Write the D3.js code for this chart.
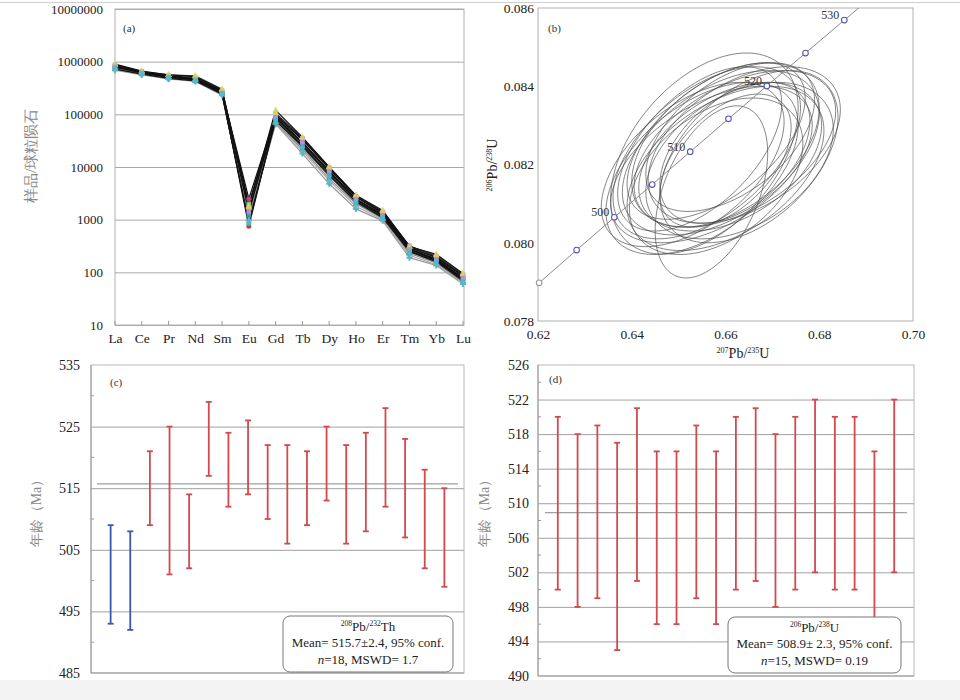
<!DOCTYPE html>
<html><head><meta charset="utf-8">
<script src="https://cdn.jsdelivr.net/npm/d3@7"></script>
<style>
body{margin:0;background:#fff}
svg{display:block}
text{font-family:"Liberation Serif","Times New Roman",serif}
</style>
</head><body>
<svg id="chart" width="960" height="700"></svg>
<script>
// ---------- Panel (a) data: REE chondrite-normalised patterns ----------
const elements = ["La","Ce","Pr","Nd","Sm","Eu","Gd","Tb","Dy","Ho","Er","Tm","Yb","Lu"];
const reeSamples = [
  [850000,640000,530000,470000,270000,2500, 95000,33000, 9500,2700,1350,300,190,85],
  [900000,660000,560000,520000,290000,1800,120000,37000,10000,2900,1500,310,220,95],
  [780000,600000,500000,450000,260000,1500,100000,35000, 9800,2800,1400,320,200,90],
  [720000,580000,480000,430000,240000, 900, 75000,25000, 7000,2200,1100,250,160,70],
  [800000,620000,510000,460000,250000, 750, 85000,28000, 8000,2400,1200,270,170,75],
  [760000,590000,490000,440000,250000,1100, 80000,26000, 7500,2300,1150,260,165,72],
  [690000,560000,470000,420000,230000,1000, 65000,18000, 4800,1600, 950,190,135,60],
  [820000,630000,520000,480000,275000,2000, 90000,30000, 8500,2500,1250,280,180,80],
  [870000,650000,540000,500000,280000,1300, 98000,34000, 9200,2750,1300,290,195,88],
  [740000,600000,500000,440000,245000,1200, 70000,22000, 6000,2000,1050,230,150,65],
  [700000,570000,480000,430000,235000, 950, 68000,20000, 5500,1800,1000,210,140,62],
  [880000,650000,560000,540000,300000,1700,105000,36000, 9800,2850,1450,305,210,92],
  [800000,610000,510000,450000,255000,1400, 88000,29000, 8200,2450,1200,275,175,78],
  [760000,600000,500000,445000,248000, 850, 78000,24000, 6800,2150,1080,245,158,68]
];
const reeMarkerColors = ["#c0508a","#d8d870","#a890d0","#40b8c8","#a02828","#304a90","#38b0c0","#a8d8a0","#9a80c8","#30a0a0","#7ab0c0","#e0d860","#b090d8","#48c0d0"];
const reeLineColors = ["#111","#111","#222","#111","#111","#222","#999","#111","#222","#888","#aaa","#333","#111","#555"];
const reeSymbols = ["circle","triangle","square","square","circle","diamond","cross","square","square","triangle","cross","triangle","square","circle"];
const aTicks = [10,100,1000,10000,100000,1000000,10000000];

// ---------- Panel (b) data: concordia ----------
const concAges = [490,495,500,505,510,515,520,525,530,535];
const concX = [0.620243,0.628241,0.636279,0.644357,0.652474,0.660631,0.668829,0.677066,0.685345,0.693664];
const concY = [0.078975,0.079812,0.080650,0.081488,0.082327,0.083167,0.084008,0.084849,0.085691,0.086533];
const concMarkerAges = [490,495,500,505,510,515,520,525,530];
const concLabelAges = [500,510,520,530];
const ellCx  = [0.6555,0.6570,0.6590,0.6570,0.6600,0.6550,0.6610,0.6580,0.6620,0.6560,0.6600,0.6640,0.6530,0.6610,0.6580,0.6630,0.6545,0.6650,0.6600,0.6620];
const ellCy  = [0.08228,0.0813,0.0823,0.0820,0.0825,0.0819,0.0822,0.0826,0.0824,0.0823,0.0819,0.0825,0.0820,0.0827,0.0817,0.0821,0.0824,0.0822,0.0821,0.0823];
const ellDx  = [0.0200,0.0120,0.0210,0.0215,0.0200,0.0205,0.0195,0.0190,0.0215,0.0200,0.0210,0.0205,0.0195,0.0180,0.0185,0.0200,0.0175,0.0190,0.0140,0.0160];
const ellDy  = [0.00257,0.0022,0.0021,0.0020,0.0021,0.0022,0.0019,0.0020,0.0020,0.0022,0.0021,0.0020,0.0021,0.0019,0.0020,0.0020,0.0021,0.0022,0.0017,0.0018];
const ellRho = [0.45,0.45,0.48,0.50,0.45,0.50,0.42,0.55,0.48,0.52,0.46,0.45,0.52,0.50,0.42,0.40,0.55,0.46,0.50,0.45];
const bXTicks = [0.62,0.64,0.66,0.68,0.70];
const bYTicks = [0.078,0.080,0.082,0.084,0.086];

// ---------- Panel (c) data: 208Pb/232Th ages ----------
const cTop = [509,508,521,525,514,529,524,526,522,522,521,525,522,524,528,523,518,515];
const cBot = [493,492,509,501,502,517,512,514,510,506,509,513,506,508,512,507,502,499];
const cGroup = ["b","b","r","r","r","r","r","r","r","r","r","r","r","r","r","r","r","r"];
const cMean = 515.7;
const cTicks = [485,495,505,515,525,535];
const cMinor = [490,500,510,520,530];

// ---------- Panel (d) data: 206Pb/238U ages ----------
const dTop = [520,518,519,517,521,516,516,519,516,520,521,518,520,522,520,520,516,522];
const dBot = [500,498,499,493,501,496,496,499,496,500,501,498,500,502,500,500,496,502];
const dMean = 508.9;
const dTicks = [490,494,498,502,506,510,514,518,522,526];
const dMinor = [492,496,500,504,508,512,516,520,524];

// ================= drawing =================
const svg = d3.select("#chart");
svg.append("rect").attr("width",960).attr("height",700).attr("fill","#fff");
svg.append("line").attr("x1",0).attr("x2",960).attr("y1",2.5).attr("y2",2.5).attr("stroke","#cfcfcf");
svg.append("rect").attr("x",0).attr("y",680).attr("width",960).attr("height",20).attr("fill","#f3f3f3");

const SERIF = '"Liberation Serif","Times New Roman",serif';
const CJK = '"Noto Sans CJK SC","Noto Sans CJK JP",sans-serif';

function styleAxisText(g, size){
  g.selectAll("text").attr("font-family",SERIF).attr("font-size",size).attr("fill","#222");
  g.select(".domain").remove();
}

// ---------------- Panel (a) ----------------
{
  const L=115,R=464,T=9,B=325;
  const x = d3.scalePoint().domain(elements).range([L,463]);
  const y = d3.scaleLog().domain([10,1e7]).range([B,T]);
  const g = svg.append("g");
  g.append("g").attr("transform",`translate(${L},0)`)
    .call(d3.axisLeft(y).tickValues(aTicks).tickSize(-(R-L)).tickFormat(""))
    .call(s=>{s.select(".domain").remove(); s.selectAll("line").attr("stroke","#a8a8a8").attr("stroke-width",1);});
  g.append("rect").attr("x",L).attr("y",T).attr("width",R-L).attr("height",B-T)
    .attr("fill","none").attr("stroke","#b0b0b0");
  g.append("g").attr("transform",`translate(${L},0)`)
    .call(d3.axisLeft(y).tickValues(aTicks).tickSize(0).tickPadding(12).tickFormat(d3.format("d")))
    .call(s=>styleAxisText(s,13));
  g.append("g").attr("transform",`translate(0,${B})`)
    .call(d3.axisBottom(x).tickSize(0).tickPadding(8))
    .call(s=>styleAxisText(s,13.5));
  g.append("g").selectAll("line").data(elements).join("line")
    .attr("x1",d=>x(d)).attr("x2",d=>x(d)).attr("y1",B).attr("y2",B-4).attr("stroke","#999");
  const line = d3.line().x((d,i)=>x(elements[i])).y(d=>y(d));
  const order = d3.range(reeSamples.length).sort((a,b)=>(reeLineColors[b]==="#111"?0:1)-(reeLineColors[a]==="#111"?0:1));
  g.append("g").selectAll("path").data(order).join("path")
    .attr("d",i=>line(reeSamples[i])).attr("fill","none")
    .attr("stroke",i=>reeLineColors[i]).attr("stroke-width",1.2);
  const symMap = {circle:d3.symbolCircle,triangle:d3.symbolTriangle,square:d3.symbolSquare,diamond:d3.symbolDiamond,cross:d3.symbolCross};
  reeSamples.forEach((s,i)=>{
    g.append("g").selectAll("path").data(s).join("path")
      .attr("transform",(d,j)=>`translate(${x(elements[j])},${y(d)})`)
      .attr("d",d3.symbol().type(symMap[reeSymbols[i]]).size(20))
      .attr("fill",reeMarkerColors[i]).attr("opacity",0.85);
  });
  g.append("text").attr("x",123).attr("y",32).attr("font-size",11).attr("fill","#333").text("(a)");
  g.append("text").attr("transform","translate(36,156) rotate(-90)").attr("text-anchor","middle")
    .attr("font-family",CJK).attr("font-size",15).attr("fill","#888").text("样品/球粒陨石");
}

// ---------------- Panel (b) ----------------
{
  const L=538,R=913,T=8,B=321;
  const x = d3.scaleLinear().domain([0.62,0.70]).range([L,R]);
  const y = d3.scaleLinear().domain([0.078,0.086]).range([B,T]);
  const g = svg.append("g");
  svg.append("clipPath").attr("id","clipb").append("rect").attr("x",L).attr("y",T).attr("width",R-L).attr("height",B-T);
  g.append("rect").attr("x",L).attr("y",T).attr("width",R-L).attr("height",B-T)
    .attr("fill","none").attr("stroke","#b0b0b0");
  g.append("g").attr("transform",`translate(${L},0)`)
    .call(d3.axisLeft(y).tickValues(bYTicks).tickSize(0).tickPadding(4).tickFormat(d3.format(".3f")))
    .call(s=>styleAxisText(s,13.5));
  g.append("g").attr("transform",`translate(0,${B})`)
    .call(d3.axisBottom(x).tickValues(bXTicks).tickSize(0).tickPadding(8).tickFormat(d3.format(".2f")))
    .call(s=>styleAxisText(s,13.5));
  const inner = g.append("g").attr("clip-path","url(#clipb)");
  const ang = d3.range(0,120).map(k=>k/120*2*Math.PI);
  const eLine = d3.line().x(p=>x(p[0])).y(p=>y(p[1])).curve(d3.curveLinearClosed);
  ellCx.forEach((cx,i)=>{
    const r = ellRho[i], q = Math.sqrt(1-r*r);
    const pts = ang.map(t=>[cx+ellDx[i]*Math.cos(t), ellCy[i]+ellDy[i]*(r*Math.cos(t)+q*Math.sin(t))]);
    inner.append("path").attr("d",eLine(pts)).attr("fill","none").attr("stroke","#4a4a4a").attr("stroke-width",0.8).attr("opacity",0.85);
  });
  const cl = d3.line().x((d,i)=>x(concX[i])).y((d,i)=>y(concY[i]));
  inner.append("path").attr("d",cl(concAges)).attr("fill","none").attr("stroke","#8a8a8a").attr("stroke-width",1);
  const idx = a=>concAges.indexOf(a);
  g.selectAll("circle.cm").data(concMarkerAges).join("circle")
    .attr("cx",a=>x(concX[idx(a)])).attr("cy",a=>y(concY[idx(a)])).attr("r",2.8)
    .attr("fill","#fff").attr("stroke",a=>a===490?"#999":"#5656b0").attr("stroke-width",1.1);
  g.selectAll("text.cl").data(concLabelAges).join("text")
    .attr("x",a=>x(concX[idx(a)])-5).attr("y",a=>y(concY[idx(a)])-1)
    .attr("text-anchor","end").attr("font-size",12).attr("fill","#333").text(a=>a);
  g.append("text").attr("x",548).attr("y",32).attr("font-size",11).attr("fill","#333").text("(b)");
  const xt = g.append("text").attr("x",743).attr("y",358).attr("text-anchor","middle").attr("font-size",14).attr("fill","#222");
  xt.append("tspan").attr("font-size",8).attr("dy",-5).text("207");
  xt.append("tspan").attr("dy",5).text("Pb/");
  xt.append("tspan").attr("font-size",8).attr("dy",-5).text("235");
  xt.append("tspan").attr("dy",5).text("U");
  const yt = g.append("text").attr("transform","translate(497,165) rotate(-90)").attr("text-anchor","middle").attr("font-size",14).attr("fill","#222");
  yt.append("tspan").attr("font-size",8).attr("dy",-5).text("206");
  yt.append("tspan").attr("dy",5).text("Pb/");
  yt.append("tspan").attr("font-size",8).attr("dy",-5).text("238");
  yt.append("tspan").attr("dy",5).text("U");
}

// ---------------- error-bar panels ----------------
function errPanel(opt){
  const {L,R,T,B,domain,ticks,minor,tops,bots,colors,mean,meanX,label,labelPos,box,sup,meanText,nText,ylabX} = opt;
  const x = d3.scaleLinear().domain([0,19]).range([L,R]);
  const y = d3.scaleLinear().domain(domain).range([B,T]);
  const g = svg.append("g");
  g.append("g").attr("transform",`translate(${L},0)`)
    .call(d3.axisLeft(y).tickValues(ticks.slice(1,-1)).tickSize(-(R-L)).tickFormat(""))
    .call(s=>{s.select(".domain").remove(); s.selectAll("line").attr("stroke","#a0a0a0");});
  g.append("rect").attr("x",L).attr("y",T).attr("width",R-L).attr("height",B-T).attr("fill","none").attr("stroke","#b8b8b8");
  g.append("line").attr("x1",L).attr("x2",L).attr("y1",T).attr("y2",B).attr("stroke","#999");
  g.append("line").attr("x1",L).attr("x2",R).attr("y1",B).attr("y2",B).attr("stroke","#999");
  g.append("g").selectAll("line").data(minor).join("line")
    .attr("x1",L).attr("x2",L+3).attr("y1",d=>y(d)).attr("y2",d=>y(d)).attr("stroke","#999");
  g.append("g").attr("transform",`translate(${L},0)`)
    .call(d3.axisLeft(y).tickValues(ticks).tickSize(0).tickPadding(opt.pad))
    .call(s=>styleAxisText(s,14));
  g.append("line").attr("x1",meanX[0]).attr("x2",meanX[1]).attr("y1",y(mean)).attr("y2",y(mean)).attr("stroke","#888");
  tops.forEach((t,i)=>{
    const xx = x(i+1), col = colors[i];
    const bg = g.append("g").attr("stroke",col).attr("stroke-width",1.8);
    bg.append("line").attr("x1",xx).attr("x2",xx).attr("y1",y(t)).attr("y2",y(bots[i]));
    bg.append("line").attr("x1",xx-3).attr("x2",xx+3).attr("y1",y(t)).attr("y2",y(t));
    bg.append("line").attr("x1",xx-3).attr("x2",xx+3).attr("y1",y(bots[i])).attr("y2",y(bots[i]));
  });
  g.append("text").attr("x",labelPos[0]).attr("y",labelPos[1]).attr("font-size",11).attr("fill","#333").text(label);
  g.append("rect").attr("x",box[0]).attr("y",box[1]).attr("width",box[2]).attr("height",box[3]).attr("rx",7)
    .attr("fill","#fff").attr("stroke","#777");
  const cx = box[0]+box[2]/2;
  const t1 = g.append("text").attr("x",cx).attr("y",box[1]+15).attr("text-anchor","middle").attr("font-size",13).attr("fill","#222");
  t1.append("tspan").attr("font-size",7.5).attr("dy",-5).text(sup[0]);
  t1.append("tspan").attr("dy",5).text("Pb/");
  t1.append("tspan").attr("font-size",7.5).attr("dy",-5).text(sup[1]);
  t1.append("tspan").attr("dy",5).text(sup[2]);
  g.append("text").attr("x",cx).attr("y",box[1]+31).attr("text-anchor","middle").attr("font-size",13).attr("fill","#222").text(meanText);
  const t3 = g.append("text").attr("x",cx).attr("y",box[1]+48).attr("text-anchor","middle").attr("font-size",13).attr("fill","#222");
  t3.append("tspan").attr("font-style","italic").text("n");
  t3.append("tspan").text(nText);
  g.append("text").attr("transform",`translate(${ylabX},510) rotate(-90)`).attr("text-anchor","middle")
    .attr("font-family",CJK).attr("font-size",14).attr("fill","#888").text("年龄（Ma）");
}

errPanel({L:91,R:464,T:365,B:673,domain:[485,535],ticks:cTicks,minor:cMinor,pad:11,
  tops:cTop,bots:cBot,colors:cGroup.map(g=>g==="b"?"#3a58b0":"#d04a4e"),
  mean:cMean,meanX:[97,458],label:"(c)",labelPos:[110,386],
  box:[283,616,170,56],sup:["208","232","Th"],meanText:"Mean= 515.7±2.4, 95% conf.",nText:"=18, MSWD= 1.7",ylabX:41});

errPanel({L:538,R:914,T:365,B:676,domain:[490,526],ticks:dTicks,minor:dMinor,pad:9,
  tops:dTop,bots:dBot,colors:dTop.map(()=>"#d04a4e"),
  mean:dMean,meanX:[545,907],label:"(d)",labelPos:[549,383],
  box:[728,617,173,56],sup:["206","238","U"],meanText:"Mean= 508.9± 2.3, 95% conf.",nText:"=15, MSWD= 0.19",ylabX:489});
</script>
</body></html>
